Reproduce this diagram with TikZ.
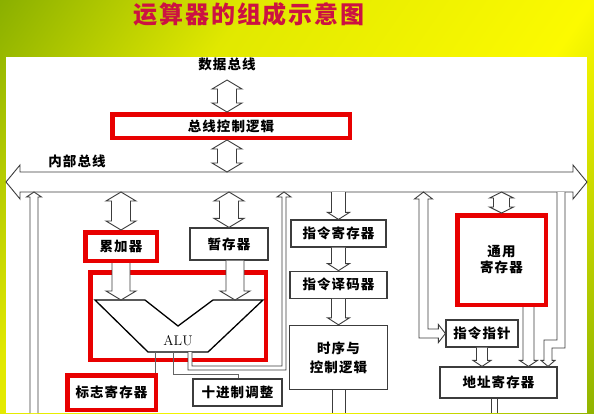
\documentclass[tikz,border=0pt]{standalone}
\usepackage{fontspec}
\newfontfamily\cjk{Noto Sans CJK SC}[LetterSpace=8]
\usetikzlibrary{calc,positioning}

\definecolor{titlered}{RGB}{204,18,66}
\definecolor{boxred}{RGB}{232,0,0}
\definecolor{linegray}{RGB}{60,60,60}
\definecolor{bggreen}{RGB}{72,132,0}
\definecolor{bgyellow}{RGB}{252,250,0}

\pgfdeclarehorizontalshading{slidebg}{100bp}{color(0bp)=(bggreen); color(35bp)=(bgyellow!85!bggreen); color(62bp)=(bgyellow); color(100bp)=(bggreen)}

\tikzset{
		heading/.style={font=\cjk\bfseries\fontsize{24}{24}\selectfont, text=titlered},
		txt/.style={font=\cjk\bfseries\fontsize{13.5}{16}\selectfont, align=center},
		redbox/.style={txt, draw=boxred, line width=4.5pt, inner sep=0pt},
		graybox/.style={txt, draw=linegray, line width=1.2pt, inner sep=0pt},
		hollow/.style={draw=linegray, line width=0.9pt, fill=white, line join=miter},
		wire/.style={draw=linegray!80, line width=0.8pt},
		aluedge/.style={draw=black, line width=1.3pt, line join=miter},
		% #1 half shaft, #2 half head, #3 head length
		arrowdown/.style n args={3}{hollow, to path={
			($(\tikztostart)+(-#1,0)$) -- ($(\tikztostart|-\tikztotarget)+(-#1,-#3)$)
			-- ($(\tikztostart|-\tikztotarget)+(-#2,-#3)$) -- (\tikztostart|-\tikztotarget)
			-- ($(\tikztostart|-\tikztotarget)+(#2,-#3)$) -- ($(\tikztostart|-\tikztotarget)+(#1,-#3)$)
			-- ($(\tikztostart)+(#1,0)$)}},
		arrowup/.style n args={3}{hollow, to path={
			($(\tikztostart)+(-#1,0)$) -- ($(\tikztostart|-\tikztotarget)+(-#1,#3)$)
			-- ($(\tikztostart|-\tikztotarget)+(-#2,#3)$) -- (\tikztostart|-\tikztotarget)
			-- ($(\tikztostart|-\tikztotarget)+(#2,#3)$) -- ($(\tikztostart|-\tikztotarget)+(#1,#3)$)
			-- ($(\tikztostart)+(#1,0)$)}},
		arrowboth/.style n args={3}{hollow, to path={
			(\tikztostart) -- ($(\tikztostart)+(#2,#3)$) -- ($(\tikztostart)+(#1,#3)$)
			-- ($(\tikztostart|-\tikztotarget)+(#1,-#3)$) -- ($(\tikztostart|-\tikztotarget)+(#2,-#3)$)
			-- (\tikztostart|-\tikztotarget)
			-- ($(\tikztostart|-\tikztotarget)+(-#2,-#3)$) -- ($(\tikztostart|-\tikztotarget)+(-#1,-#3)$)
			-- ($(\tikztostart)+(-#1,#3)$) -- ($(\tikztostart)+(-#2,#3)$) -- cycle}},
		arrowlr/.style n args={3}{hollow, to path={
			(\tikztostart) -- ($(\tikztostart)+(#3,-#2)$) -- ($(\tikztostart)+(#3,-#1)$)
			-- ($(\tikztotarget)+(-#3,-#1)$) -- ($(\tikztotarget)+(-#3,-#2)$) -- (\tikztotarget)
			-- ($(\tikztotarget)+(-#3,#2)$) -- ($(\tikztotarget)+(-#3,#1)$)
			-- ($(\tikztostart)+(#3,#1)$) -- ($(\tikztostart)+(#3,#2)$) -- cycle}},
		arrowvh/.style n args={3}{hollow, to path={
			(\tikztostart) -- ($(\tikztostart)+(#2,#3)$) -- ($(\tikztostart)+(#1,#3)$)
			-- ($(\tikztostart|-\tikztotarget)+(#1,-#1)$) -- ($(\tikztotarget)+(-#3,-#1)$)
			-- ($(\tikztotarget)+(-#3,-#2)$) -- (\tikztotarget)
			-- ($(\tikztotarget)+(-#3,#2)$) -- ($(\tikztotarget)+(-#3,#1)$)
			-- ($(\tikztostart|-\tikztotarget)+(-#1,#1)$)
			-- ($(\tikztostart)+(-#1,#3)$) -- ($(\tikztostart)+(-#2,#3)$) -- cycle}},
		shaft/.style={draw=linegray, line width=0.9pt, to path={
			($(\tikztostart)+(-#1,0)$) -- ($(\tikztostart|-\tikztotarget)+(-#1,0)$)
			($(\tikztostart)+(#1,0)$) -- ($(\tikztostart|-\tikztotarget)+(#1,0)$)}},
		bigdown/.style={arrowdown={9}{15}{9}},
		bigboth/.style={arrowboth={9.5}{15}{9}},
		middown/.style={arrowdown={7}{11}{7}},
		smalldown/.style={arrowdown={5.5}{9}{6}}
	}

\begin{document}
\begin{tikzpicture}[x=1pt,y=-1pt]
	\useasboundingbox (0,0) rectangle (594,413);
	\fill[shading=slidebg, shading angle=-35] (0,0) rectangle (594,413);
	\fill[white] (6,57) rectangle (587,413);
	\node[heading] (title) at (249,14) {运算器的组成示意图};

	% internal bus
	\coordinate (busL) at (6,182);
	\coordinate (busR) at (587,182);
	\coordinate (bustop) at (0,172);
	\coordinate (busbot) at (0,192);
	\coordinate (alutop) at (0,300);
	\coordinate (bottom) at (0,413);
	\draw[arrowlr={10}{17}{14}] (busL) to (busR);
	\node[txt] (innerbus) at (77,161) {内部总线};

	\node[txt] (databus) at (227,64) {数据总线};
	\node[redbox, minimum width=237.5pt, minimum height=23.5pt] (logic) at (231,126) {总线控制逻辑};

	\node[redbox, minimum width=71.5pt, minimum height=28.5pt] (acc) at (121,246.5) {累加器};
	\node[graybox, minimum width=78pt, minimum height=32pt] (tmp) at (229,244) {暂存器};
	\node[redbox, minimum width=175.5pt, minimum height=87.5pt] (alubox) at (178,316) {};
	\draw[aluedge] (95,300) -- (145,300) -- (178,326) -- (213,300) -- (263,300) -- (208,352) -- (148,352) -- cycle;
	\node[font=\fontsize{14}{14}\selectfont] (alu) at (178,341) {ALU};
	\node[redbox, minimum width=88.5pt, minimum height=34.5pt] (flag) at (111.5,392.5) {标志寄存器};
	\node[graybox, minimum width=89pt, minimum height=27pt] (dec) at (237.5,392.5) {十进制调整};

	\node[graybox, minimum width=95pt, minimum height=27pt] (ir) at (338.5,233.5) {指令寄存器};
	\node[graybox, minimum width=97pt, minimum height=27pt, below=23pt of ir] (id) {指令译码器};
	\node[graybox, minimum width=98pt, minimum height=64pt, below=26pt of id] (tc) {时序与\\[3pt]控制逻辑};

	\node[redbox, minimum width=88.5pt, minimum height=89.5pt] (gpr) at (501.5,260) {通用\\寄存器};
	\node[graybox, minimum width=72pt, minimum height=27pt] (ip) at (482,333.5) {指令指针};
	\node[graybox, minimum width=117pt, minimum height=31pt] (ar) at (498.5,382.5) {地址寄存器};

	% hollow arrows
	\path ([yshift=-6pt]databus.south) coordinate (dbusout);
	\draw[bigboth] (dbusout) to (dbusout |- logic.north);
	\draw[bigboth] (databus.south |- logic.south) to (databus.south |- bustop);
	\draw[bigboth] (acc.north |- busbot) to (acc.north);
	\draw[bigboth] (tmp.north |- busbot) to (tmp.north);
	\path ([xshift=6pt]tmp.south) coordinate (tmpout);
	\draw[bigdown] (acc.south) to (acc.south |- alutop);
	\draw[bigdown] (tmpout) to (tmpout |- alutop);
	\draw[arrowboth={8}{12}{6}] (gpr.north |- busbot) to (gpr.north);

	\draw[middown] (ir.north |- busbot) to (ir.north);
	\draw[middown] (ir.south) to (id.north);
	\draw[middown] (id.south) to (tc.north);
	\draw[shaft=6.5] (tc.south) to (tc.south |- bottom);
	\path ([xshift=27pt]gpr.south) coordinate (gprout);
	\draw[smalldown] (gprout) to (gprout |- ar.north);
	\draw[smalldown] (ip.south) to (ip.south |- ar.north);

	\coordinate (ipwire) at (423.5,0);
	\coordinate (arwire) at (561,344);
	\coordinate (arjog) at (548,344);
	\coordinate (leftwire) at (34,0);
	\coordinate (arout) at (494,0);
	\draw[arrowvh={4.5}{9}{7}] (ipwire |- busbot) to (ip.west);
	\draw[hollow] ($(arwire |- busbot)+(4,0)$) -- ($(arwire)+(4,4)$) -- ($(arjog)+(4,4)$)
		-- ($(arjog |- ar.north)+(4,-6)$) -- ($(arjog |- ar.north)+(7,-6)$) -- (arjog |- ar.north)
		-- ($(arjog |- ar.north)+(-7,-6)$) -- ($(arjog |- ar.north)+(-4,-6)$)
		-- ($(arjog)+(-4,-4)$) -- ($(arwire)+(-4,-4)$) -- ($(arwire |- busbot)+(-4,0)$);
	\draw[shaft=3] (arout |- ar.south) to (arout |- bottom);
	\draw[arrowup={4}{7.5}{5}] (leftwire |- bottom) to (leftwire |- busbot);

	% ALU outputs
	\coordinate (aluout) at (190,352);
	\coordinate (aluturn) at (284,368);
	\coordinate (aluflag) at (155,352);
	\coordinate (aludec) at (173,352);
	\coordinate (decturn) at (238,374);
	\draw[hollow] ($(aluout)+(-2,0)$) -- ($(aluout |- aluturn)+(-2,2)$) -- ($(aluturn)+(2,2)$)
		-- ($(aluturn |- busbot)+(2,5)$) -- ($(aluturn |- busbot)+(7,5)$) -- (aluturn |- busbot)
		-- ($(aluturn |- busbot)+(-7,5)$) -- ($(aluturn |- busbot)+(-2,5)$)
		-- ($(aluturn)+(-2,-2)$) -- ($(aluout |- aluturn)+(2,-2)$) -- ($(aluout)+(2,0)$);
	\draw[wire] (aluflag) -- (aluflag |- flag.north);
	\draw[wire] (aludec) -- (aludec |- decturn) -- (decturn) -- (decturn |- dec.north);
\end{tikzpicture}
\end{document}
